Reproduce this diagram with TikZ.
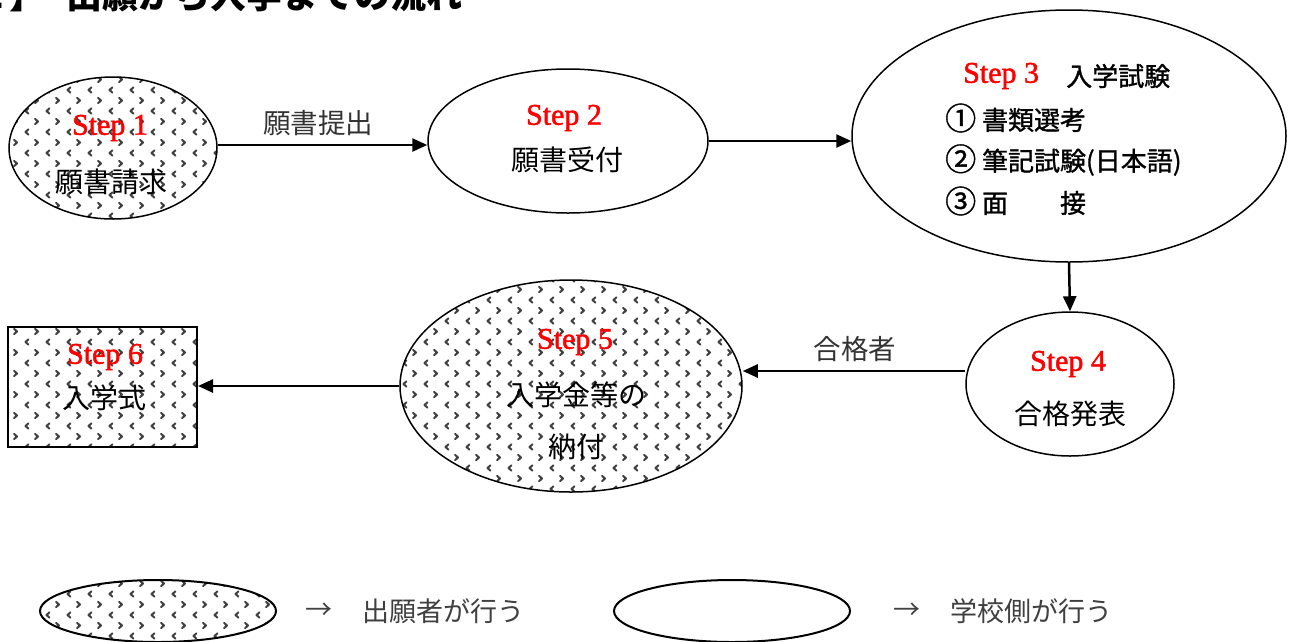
\documentclass[tikz,border=0pt]{standalone}
\usepackage{fontspec}
\setmainfont{Noto Sans CJK JP}
\newfontfamily\stepfont[FakeBold=1.6]{Liberation Serif}
\newfontfamily\gothfont[FakeBold=1.2]{Noto Sans CJK JP}
\usetikzlibrary{shapes.geometric,arrows.meta,patterns}
\pgfdeclarepatternformonly{chevrons}{\pgfpoint{-1pt}{-1pt}}{\pgfpoint{22pt}{22pt}}{\pgfpoint{21pt}{21pt}}{%
  \pgfsetlinewidth{2pt}\pgfsetroundcap\pgfsetroundjoin
  \pgfpathmoveto{\pgfpoint{7.5pt}{2.3pt}}\pgfpathlineto{\pgfpoint{4.5pt}{5pt}}\pgfpathlineto{\pgfpoint{7.5pt}{7.7pt}}
  \pgfpathmoveto{\pgfpoint{14pt}{12.8pt}}\pgfpathlineto{\pgfpoint{17pt}{15.5pt}}\pgfpathlineto{\pgfpoint{14pt}{18.2pt}}
  \pgfusepath{stroke}}
\begin{document}
\begin{tikzpicture}[x=1pt,y=-1pt,
  every node/.style={inner sep=0pt},
  applicant/.style={draw, line width=1.5pt, pattern=chevrons, pattern color=black!75},
  school/.style={draw, line width=1.5pt, fill=white},
  ell/.style={ellipse},
  flow/.style={line width=2.5pt, -{Triangle[length=15pt,width=13pt]}},
  steplbl/.style={text=red, font=\stepfont\fontsize{30}{30}\selectfont},
  jplbl/.style={font=\fontsize{28}{28}\selectfont},
  itemlbl/.style={font=\gothfont\fontsize{26}{26}\selectfont, anchor=west},
  edgelbl/.style={text=black!80, font=\fontsize{27.5}{27.5}\selectfont},
  legendlbl/.style={text=black!75, font=\fontsize{27}{27}\selectfont, anchor=west}]
\useasboundingbox (0,0) rectangle (1291,641);
\clip (0,0) rectangle (1291,641);
\fill[white] (0,0) rectangle (1291,641);

% title (cut off at top, as in the reference)
\node[font=\bfseries\fontsize{36}{36}\selectfont, anchor=base east] (t1) at (46,8) {【２】};
\node[font=\bfseries\fontsize{36}{36}\selectfont, anchor=base west] (t2) at (66,8) {出願から入学までの流れ};

% shapes
\node[ell, applicant, minimum width=208pt, minimum height=142pt] (s1) at (113,148) {};
\node[ell, school, minimum width=280pt, minimum height=144pt] (s2) at (568,141) {};
\node[ell, school, minimum width=434pt, minimum height=252pt] (s3) at (1069,136) {};
\node[ell, school, minimum width=208pt, minimum height=144pt] (s4) at (1070,384) {};
\node[ell, applicant, minimum width=342pt, minimum height=212pt] (s5) at (571,386) {};
\node[rectangle, applicant, line width=2pt, minimum width=189pt, minimum height=120pt] (s6) at (102.5,387) {};

% texts
\node[steplbl] (l1a) at (110,128) {Step 1};
\node[jplbl] (l1b) at (111,182) {願書請求};
\node[steplbl] (l2a) at (564,118) {Step 2};
\node[jplbl] (l2b) at (567,160) {願書受付};
\node[steplbl, anchor=west] (l3a) at (963,76) {Step 3};
\node[itemlbl] (l3b) at (1066,76) {入学試験};
\node[itemlbl] (l3c) at (945,118) {{\fontsize{31}{31}\selectfont ①}\ 書類選考};
\node[itemlbl] (l3d) at (945,160) {{\fontsize{31}{31}\selectfont ②}\ 筆記試験(日本語)};
\node[itemlbl] (l3e) at (945,201) {{\fontsize{31}{31}\selectfont ③}\ 面　　接};
\node[steplbl] (l4a) at (1068,364) {Step 4};
\node[jplbl] (l4b) at (1070,414) {合格発表};
\node[steplbl] (l5a) at (575,342) {Step 5};
\node[jplbl] (l5b) at (576,395) {入学金等の};
\node[jplbl] (l5c) at (576,447) {納付};
\node[steplbl] (l6a) at (105,357) {Step 6};
\node[jplbl] (l6b) at (104,398) {入学式};

% connectors
\draw[flow] ([yshift=3pt]s1.east) coordinate (c1) -- (c1 -| s2.west);
\node[edgelbl] (e1) at (318,123) {願書提出};
\draw[flow] (s2.east) -- (s2.east -| s3.west);
\draw[flow] (s3.south) -- (s4.north);
\draw[flow] ([yshift=13pt]s4.west) coordinate (c4) -- (c4 -| s5.east);
\node[edgelbl] (e4) at (855,349) {合格者};
\draw[flow] (s5.west) -- (s5.west -| s6.east);

% legend
\node[ell, applicant, line width=2pt, minimum width=236pt, minimum height=62pt] (g1) at (158,611) {};
\node[legendlbl] (g1a) at (305,611) {→};
\node[legendlbl] (g1b) at (362,611) {出願者が行う};
\node[ell, school, line width=2pt, minimum width=236pt, minimum height=62pt] (g2) at (732,611) {};
\node[legendlbl] (g2a) at (893,611) {→};
\node[legendlbl] (g2b) at (950,611) {学校側が行う};
\end{tikzpicture}
\end{document}
